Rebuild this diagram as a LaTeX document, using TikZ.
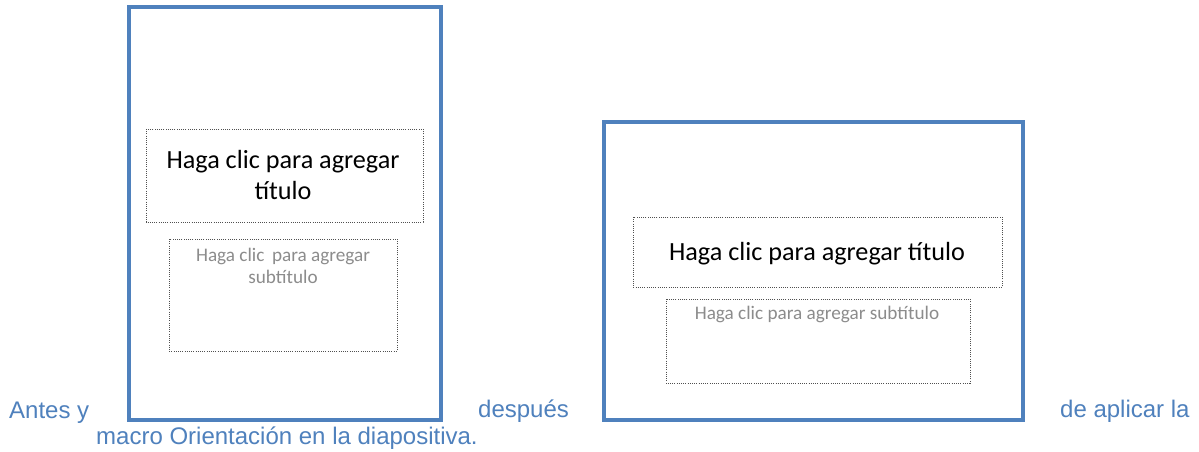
\documentclass[tikz,border=0pt]{standalone}
\usepackage{fontspec}
\setmainfont{Liberation Sans}
\newfontfamily\slidefont{Carlito}
\definecolor{frameblue}{HTML}{4F81BD}
\definecolor{captionblue}{HTML}{4F81BD}
\definecolor{dotgray}{HTML}{505050}
\definecolor{subgray}{HTML}{8C8C8C}
\begin{document}
\begin{tikzpicture}[x=1pt,y=-1pt,
  slideframe/.style={draw=frameblue,line width=4pt},
  placeholder/.style={draw=dotgray,line width=0.8pt,dash pattern=on 1pt off 1.2pt},
  titletext/.style={font=\slidefont\fontsize{26.2}{31}\selectfont,text=black,inner sep=0pt,anchor=base},
  subtext/.style={font=\slidefont\fontsize{19.2}{22}\selectfont,text=subgray,inner sep=0pt,anchor=base},
  captext/.style={font=\fontsize{24}{26}\selectfont,text=captionblue,inner sep=0pt,anchor=base west}]
\useasboundingbox[fill=white] (0,0) rectangle (1199,451);
% left (portrait) slide
\draw[slideframe] (129,7) rectangle (441,420);
\draw[placeholder] (146,129) rectangle (423,222);
\node[titletext] (lt1) at (283,168) {Haga clic para agregar};
\node[titletext] (lt2) at (283,199) {título};
\draw[placeholder] (169,239) rectangle (397,351);
\node[subtext] (ls1) at (283,261) {Haga clic\, para agregar};
\node[subtext] (ls2) at (283,283) {subtítulo};
% right (landscape) slide
\draw[slideframe] (604,122) rectangle (1023,420);
\draw[placeholder] (633,217) rectangle (1002,287);
\node[titletext] (rt) at (817,260) {Haga clic para agregar título};
\draw[placeholder] (666,299) rectangle (970,383);
\node[subtext] (rs) at (817,319) {Haga clic para agregar subtítulo};
% caption
\node[captext] (c1) at (9,418) {Antes y};
\node[captext] (c2) at (478,417) {después};
\node[captext] (c3) at (1060,417) {de aplicar la};
\node[captext] (c4) at (96,444) {macro Orientación en la diapositiva.};
\end{tikzpicture}
\end{document}
